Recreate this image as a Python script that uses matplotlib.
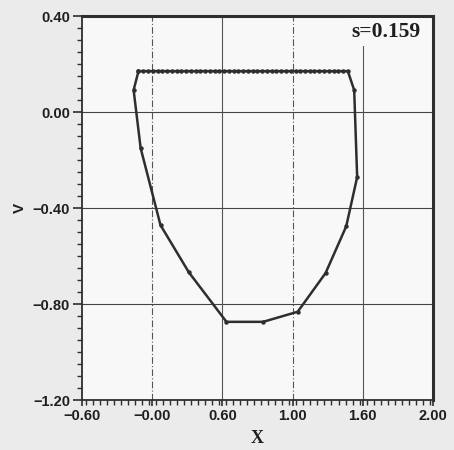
import matplotlib
matplotlib.use("Agg")
import matplotlib.pyplot as plt
from matplotlib.ticker import FixedLocator, MultipleLocator


# flat upper edge of the domain, sampled nodes
TOP_X = [-0.180, -0.145, -0.110, -0.074, -0.039, -0.004, 0.031, 0.066, 0.102,
         0.137, 0.172, 0.207, 0.242, 0.278, 0.313, 0.348, 0.383, 0.418, 0.454,
         0.489, 0.524, 0.559, 0.594, 0.630, 0.665, 0.700, 0.735, 0.770, 0.806,
         0.841, 0.876, 0.911, 0.946, 0.982, 1.017, 1.052, 1.087, 1.122, 1.158,
         1.193, 1.228, 1.263, 1.298, 1.334, 1.369]
TOP_V = 0.171

# remaining boundary, right side down and back up the left side
SIDE_X = [1.369, 1.416, 1.438, 1.357, 1.204, 0.998, 0.742, 0.471, 0.192,
          -0.017, -0.164, -0.216, -0.180]
SIDE_V = [0.171, 0.092, -0.271, -0.476, -0.671, -0.832, -0.874, -0.874, -0.667,
          -0.471, -0.150, 0.092, 0.171]

X_TICKS = [-0.60, -0.08, 0.44, 0.96, 1.48, 2.00]
X_TICK_LABELS = ["\u22120.60", "\u22120.00", "0.60", "1.00", "1.60", "2.00"]
Y_TICKS = [-1.20, -0.80, -0.40, 0.00, 0.40]
Y_TICK_LABELS = ["\u22121.20", "\u22120.80", "\u22120.40", "0.00", "0.40"]

S_LABEL = "s=0.159"

INK = "#2e2e2e"


def main():
    fig = plt.figure(figsize=(4.54, 4.50), dpi=100, facecolor="#ebebeb")
    ax = fig.add_axes([0.180, 0.111, 0.774, 0.853], facecolor="#f8f8f8")

    ax.set_xlim(-0.60, 2.00)
    ax.set_ylim(-1.20, 0.40)

    # grid: solid horizontals, alternating solid / dashed verticals
    for y in Y_TICKS[1:-1]:
        ax.axhline(y, color="#444444", lw=0.8, zorder=1)
    for i, x in enumerate(X_TICKS[1:-1]):
        style = (0, (6, 2, 1, 2)) if i % 2 == 0 else "-"
        ax.axvline(x, color="#555555", lw=0.8, ls=style, zorder=1)

    xs = TOP_X + SIDE_X[1:]
    vs = [TOP_V] * len(TOP_X) + SIDE_V[1:]
    ax.plot(xs, vs, color=INK, lw=1.8, marker="o", ms=2.2,
            mfc=INK, mec=INK, zorder=3)

    ax.text(1.91, 0.333, S_LABEL, ha="right", va="center",
            family="Liberation Serif", weight="bold", fontsize=15.5,
            color="#1e1e1e", zorder=4,
            bbox=dict(facecolor="#f8f8f8", edgecolor="none", pad=3))

    ax.xaxis.set_major_locator(FixedLocator(X_TICKS))
    ax.set_xticklabels(X_TICK_LABELS)
    ax.xaxis.set_minor_locator(MultipleLocator(0.052))
    ax.yaxis.set_major_locator(FixedLocator(Y_TICKS))
    ax.set_yticklabels(Y_TICK_LABELS)
    ax.yaxis.set_minor_locator(MultipleLocator(0.05))

    ax.tick_params(which="major", direction="out", length=6.5, width=1.2,
                   color=INK, labelsize=10.5, labelcolor="#1e1e1e", pad=2)
    ax.tick_params(which="minor", direction="out", length=3.5, width=1.0,
                   color=INK)
    ax.tick_params(axis="x", which="major", length=4.5)
    for lab in ax.get_xticklabels() + ax.get_yticklabels():
        lab.set_family("Liberation Sans")
        lab.set_weight("bold")

    for side in ("top", "right"):
        ax.spines[side].set_linewidth(2.2)
        ax.spines[side].set_color(INK)
    for side in ("left", "bottom"):
        ax.spines[side].set_linewidth(1.3)
        ax.spines[side].set_color(INK)

    ax.set_xlabel("X", family="Liberation Serif", weight="bold",
                  fontsize=13, color="#1e1e1e", labelpad=5)
    ax.set_ylabel("V", family="Liberation Sans", weight="bold",
                  fontsize=11, color="#1e1e1e", labelpad=4)

    fig.savefig("out.png", dpi=100, facecolor=fig.get_facecolor())
    plt.close(fig)


if __name__ == "__main__":
    main()
